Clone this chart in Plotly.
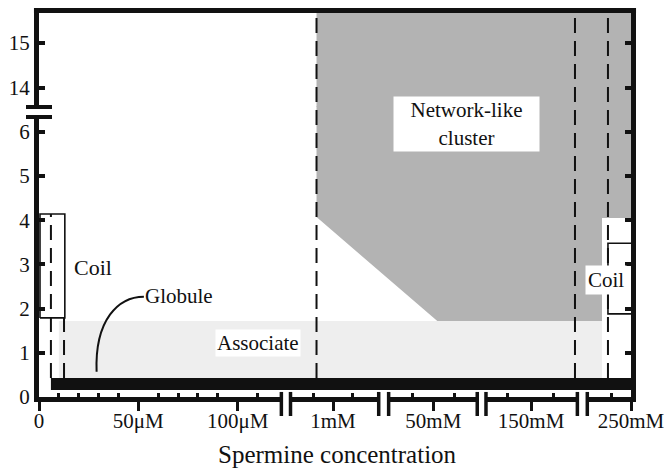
import plotly.graph_objects as go

# ---------------- axes (broken axes mapped onto linear plotting units) ----------------
x_range = [0, 298]
x_tick_pos = [0, 50, 100, 148, 198.5, 247.7, 298]
x_tick_text = ["0", "50μM", "100μM", "1mM", "50mM", "150mM", "250mM"]
x_minor_pos = [10, 20, 30, 40, 60, 70, 80, 90, 110, 138, 158, 188, 209, 236, 259, 288]
x_breaks = [[122, 126.6], [171, 176], [220.6, 225], [271, 276]]

y_low_range = [0, 6.335]
y_high_range = [13.578, 15.756]
y_low_ticks = [0, 1, 2, 3, 4, 5, 6]
y_high_ticks = [14, 15]
LOW_DOM = [0, 0.7216]
HIGH_DOM = [0.7474, 1]

# ---------------- phase regions ----------------
network_x = [139.7, 200.5, 283.4, 283.4, 298, 298, 139.7]
network_y = [4.07, 1.72, 1.72, 4.05, 4.05, 6.335, 6.335]
network_upper_x = [139.7, 298]
associate_x = [10, 283.4]
associate_y = [0.43, 1.72]
globule_x = [6, 298]
globule_y = [0.16, 0.43]
coil_left_x = [0.5, 13]
coil_left_y = [1.79, 4.14]
coil_right_x = [298, 286.4, 286.4, 298]
coil_right_y = [3.48, 3.48, 1.88, 1.88]

# phase boundaries (dashed)
bound_short_x = [6, 12.6]
bound_short_top = [4.14, 1.79]
bound_full_x = [139.7, 269.8, 286.4]
bound_bottom = 0.43

FONT = "'Liberation Serif', 'Times New Roman', serif"


def px(u):
    return (u - x_range[0]) / (x_range[1] - x_range[0])


def py_low(v):
    return LOW_DOM[0] + (v - y_low_range[0]) / (y_low_range[1] - y_low_range[0]) * (LOW_DOM[1] - LOW_DOM[0])


def rect(xs, ys):
    return [xs[0], xs[1], xs[1], xs[0], xs[0]], [ys[0], ys[0], ys[1], ys[1], ys[0]]


fig = go.Figure()
nol = dict(width=0, color="rgba(0,0,0,0)")

ax, ay = rect(associate_x, associate_y)
fig.add_trace(go.Scatter(x=ax, y=ay, fill="toself", fillcolor="#eeeeee", line=nol, mode="lines", hoverinfo="skip"))
fig.add_trace(go.Scatter(x=network_x, y=network_y, fill="toself", fillcolor="#b3b3b3", line=nol, mode="lines", hoverinfo="skip"))
ux, uy = rect(network_upper_x, y_high_range)
fig.add_trace(go.Scatter(x=ux, y=uy, yaxis="y2", fill="toself", fillcolor="#b3b3b3", line=nol, mode="lines", hoverinfo="skip"))
gx, gy = rect(globule_x, globule_y)
fig.add_trace(go.Scatter(x=gx, y=gy, fill="toself", fillcolor="#111111", line=nol, mode="lines", hoverinfo="skip"))
cx, cy = rect(coil_left_x, coil_left_y)
fig.add_trace(go.Scatter(x=cx, y=cy, mode="lines", line=dict(color="#111", width=1.6), hoverinfo="skip"))
fig.add_trace(go.Scatter(x=coil_right_x, y=coil_right_y, mode="lines", line=dict(color="#111", width=1.6), hoverinfo="skip"))

shapes = []
# gray through the y-axis break gap
shapes.append(dict(type="rect", xref="x", yref="paper", x0=network_upper_x[0], x1=network_upper_x[1],
                   y0=LOW_DOM[1] - 0.002, y1=HIGH_DOM[0] + 0.002, fillcolor="#b3b3b3", line=dict(width=0), layer="below"))
dash = dict(color="#111", width=2, dash="15px,8px")
for x, top in zip(bound_short_x, bound_short_top):
    shapes.append(dict(type="line", xref="x", yref="y", x0=x, x1=x, y0=bound_bottom, y1=top, line=dash))
for x in bound_full_x:
    shapes.append(dict(type="line", xref="x", yref="paper", x0=x, x1=x, y0=py_low(bound_bottom), y1=1, line=dash))
# globule pointer
shapes.append(dict(type="path", xref="x", yref="y", path="M 52.8,2.27 C 40,2.27 28,1.75 29,0.57",
                   line=dict(color="#111", width=2)))
# frame: top and right gap
shapes.append(dict(type="line", xref="paper", yref="paper", x0=-0.0085, x1=1.0085, y0=0.996, y1=0.996,
                   line=dict(color="#111", width=5), layer="above"))
shapes.append(dict(type="line", xref="paper", yref="paper", x0=1.0042, x1=1.0042, y0=LOW_DOM[1], y1=HIGH_DOM[0],
                   line=dict(color="#111", width=5), layer="above"))
# y-axis break marks
for yb in [LOW_DOM[1], HIGH_DOM[0]]:
    shapes.append(dict(type="line", xref="paper", yref="paper", x0=-0.022, x1=0.022, y0=yb, y1=yb,
                       line=dict(color="#111", width=4), layer="above"))
# x-axis break marks
for a, b in x_breaks:
    shapes.append(dict(type="rect", xref="paper", yref="paper", x0=px(a), x1=px(b), y0=-0.02, y1=0.006,
                       fillcolor="white", line=dict(width=0), layer="above"))
    for xb in (a, b):
        shapes.append(dict(type="line", xref="paper", yref="paper", x0=px(xb), x1=px(xb), y0=0.013, y1=-0.049,
                           line=dict(color="#111", width=3.5), layer="above"))

ann = [
    dict(x=215, xref="x", y=0.7036, yref="paper", yanchor="middle", xanchor="center",
         text="Network-like<br>cluster", showarrow=False,
         bgcolor="white", width=143, height=52, font=dict(size=21)),
    dict(x=27, xref="x", y=2.94, yref="y", text="Coil", showarrow=False, font=dict(size=22)),
    dict(x=52.5, xref="x", y=2.29, yref="y", text="Globule", showarrow=False, xanchor="left", font=dict(size=21)),
    dict(x=110, xref="x", y=1.22, yref="y", text="Associate", showarrow=False, bgcolor="white", font=dict(size=21)),
    dict(x=285.4, xref="x", y=2.65, yref="y", text="Coil", showarrow=False, bgcolor="white", borderpad=2,
         font=dict(size=21)),
    dict(x=0.505, xref="paper", y=-0.149, yref="paper", yanchor="middle", xanchor="center",
         text="Spermine concentration", showarrow=False, font=dict(size=25)),
]

yax_common = dict(showline=True, linewidth=5, linecolor="#111", ticks="inside", ticklen=6, tickwidth=4,
                  tickcolor="#111", mirror="ticks", showgrid=False, zeroline=False, anchor="x",
                  automargin=False,
                  tickfont=dict(size=21, family=FONT, color="#111"), fixedrange=True)

# page body has an 8px default margin, so the figure is drawn 8px smaller and margins shifted
fig.update_layout(
    width=664, height=464,
    margin=dict(l=31, r=41, t=1, b=75, autoexpand=False),
    paper_bgcolor="white", plot_bgcolor="white",
    showlegend=False,
    font=dict(family=FONT, color="#111"),
    xaxis=dict(range=x_range, domain=[0, 1], anchor="y", showline=True, linewidth=5, linecolor="#111",
               ticks="outside", ticklen=9, tickwidth=3, tickcolor="#111", automargin=False,
               tickmode="array", tickvals=x_tick_pos, ticktext=x_tick_text, ticklabelstandoff=-8,
               tickfont=dict(size=21, family=FONT, color="#111"), showgrid=False, zeroline=False,
               minor=dict(tickmode="array", tickvals=x_minor_pos, ticks="inside", ticklen=4, tickwidth=3,
                          tickcolor="#111", showgrid=False)),
    yaxis=dict(domain=LOW_DOM, range=y_low_range, tickmode="array", tickvals=y_low_ticks, **yax_common),
    yaxis2=dict(domain=HIGH_DOM, range=y_high_range, tickmode="array", tickvals=y_high_ticks, **yax_common),
    shapes=shapes,
    annotations=ann,
)

fig.write_html("out.html")
